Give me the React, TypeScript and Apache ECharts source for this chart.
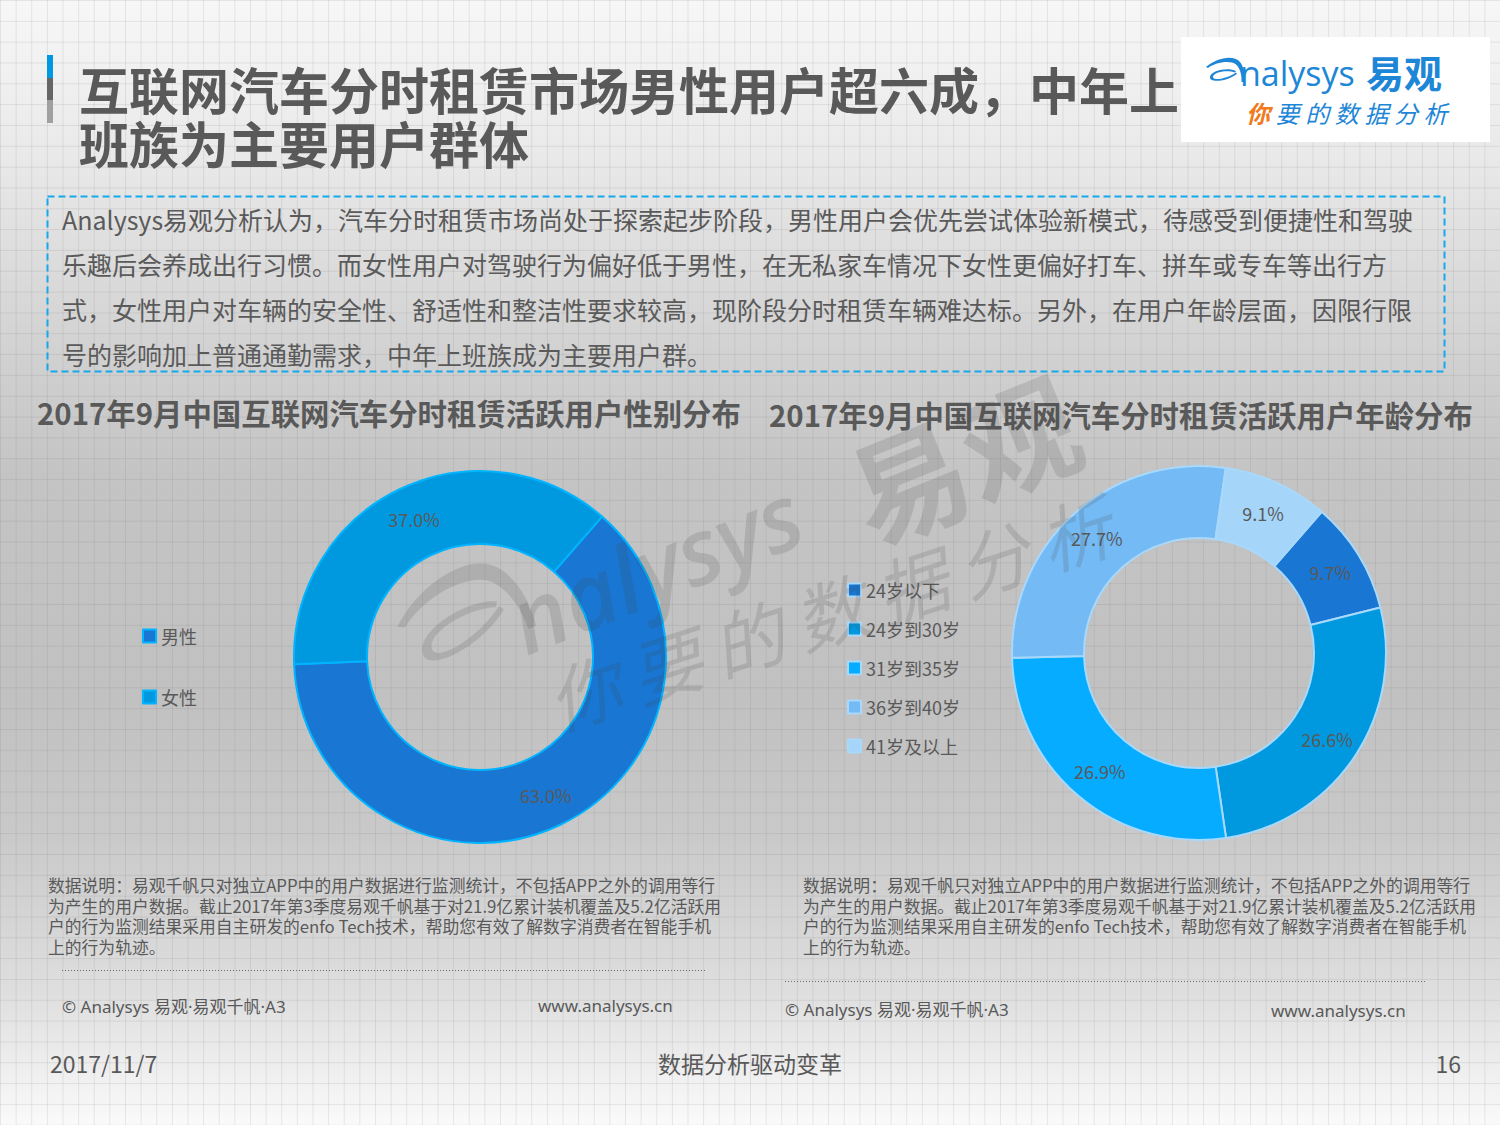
import React, { useEffect, useRef } from "react";
import * as echarts from "echarts";

const genderNames = ["男性", "女性"];
const genderValues = [63.0, 37.0];
const genderColors = ["#1976d2", "#0099e0"];

const ageNames = ["24岁以下", "24岁到30岁", "31岁到35岁", "36岁到40岁", "41岁及以上"];
const ageValues = [9.7, 26.6, 26.9, 27.7, 9.1];
const ageColors = ["#1976d2", "#0099e0", "#05acff", "#74baf5", "#a6d5fa"];

const titleLines = ["互联网汽车分时租赁市场男性用户超六成，中年上", "班族为主要用户群体"];
const bodyLines = [
  "Analysys易观分析认为，汽车分时租赁市场尚处于探索起步阶段，男性用户会优先尝试体验新模式，待感受到便捷性和驾驶",
  "乐趣后会养成出行习惯。而女性用户对驾驶行为偏好低于男性，在无私家车情况下女性更偏好打车、拼车或专车等出行方",
  "式，女性用户对车辆的安全性、舒适性和整洁性要求较高，现阶段分时租赁车辆难达标。另外，在用户年龄层面，因限行限",
  "号的影响加上普通通勤需求，中年上班族成为主要用户群。",
];
const chartTitles = [
  "2017年9月中国互联网汽车分时租赁活跃用户性别分布",
  "2017年9月中国互联网汽车分时租赁活跃用户年龄分布",
];
const noteLines = [
  "数据说明：易观千帆只对独立APP中的用户数据进行监测统计，不包括APP之外的调用等行",
  "为产生的用户数据。截止2017年第3季度易观千帆基于对21.9亿累计装机覆盖及5.2亿活跃用",
  "户的行为监测结果采用自主研发的enfo Tech技术，帮助您有效了解数字消费者在智能手机",
  "上的行为轨迹。",
];
const copyright = "© Analysys 易观·易观千帆·A3";
const website = "www.analysys.cn";
const footerDate = "2017/11/7";
const footerSlogan = "数据分析驱动变革";
const pageNo = "16";
const sloganChars = ["你", "要", "的", "数", "据", "分", "析"];

const FONT = "'Noto Sans CJK SC', 'Noto Sans', sans-serif";
const LATIN_FIRST = "'Noto Sans', 'Noto Sans CJK SC', sans-serif";
const GRAY = "#595959";

const swooshD =
  "M0 22 C 20 4, 55 -4, 68 12 C 76 22, 78 38, 76 52 L 71 52 C 72 38, 68 24, 60 17 C 48 8, 20 12, 4 24 Z " +
  "M 60 30 C 45 22, 10 28, 8 42 C 6 54, 40 52, 62 36 L 60 33 C 42 46, 14 50, 14 42 C 14 32, 42 27, 58 33 Z";

let registered = false;
function ensureShape() {
  if (registered) return;
  echarts.graphic.registerShape("swoosh", (echarts.graphic as any).extendPath(swooshD, {}));
  registered = true;
}

export default function App() {
  const ref = useRef<HTMLDivElement>(null);

  useEffect(() => {
    document.body.style.margin = "0";
    ensureShape();
    const chart = echarts.init(ref.current!, null, { renderer: "svg" });

    const txt = (x: number, y: number, text: string, o: any = {}) => {
      const fs = o.fontSize ?? 16;
      return {
        type: "text",
        x,
        y,
        silent: true,
        z: o.z ?? 10,
        rotation: o.rotation ?? 0,
        style: {
          text,
          fill: o.fill ?? GRAY,
          fontFamily: o.fontFamily ?? FONT,
          fontSize: fs,
          fontWeight: o.fontWeight ?? "normal",
          fontStyle: o.fontStyle ?? "normal",
          textAlign: o.align ?? "left",
          textVerticalAlign: o.vAlign ?? "middle",
          lineHeight: o.lineHeight ?? fs,
        },
      };
    };

    const graphics: any[] = [];
    // accent bar
    graphics.push({ type: "rect", shape: { x: 47, y: 55, width: 6, height: 23 }, style: { fill: "#0098e0" } });
    graphics.push({ type: "rect", shape: { x: 47, y: 78, width: 6, height: 22 }, style: { fill: "#666666" } });
    graphics.push({ type: "rect", shape: { x: 47, y: 100, width: 6, height: 23 }, style: { fill: "#a0a0a0" } });
    // title
    graphics.push(txt(79, 88, titleLines[0], { fontSize: 50, fontWeight: "bold", lineHeight: 50 }));
    graphics.push(txt(79, 142, titleLines[1], { fontSize: 50, fontWeight: "bold", lineHeight: 50 }));
    // logo box
    graphics.push({ type: "rect", shape: { x: 1181, y: 37, width: 309, height: 105 }, style: { fill: "#ffffff" } });
    graphics.push({ type: "swoosh", x: 1206, y: 56, scaleX: 0.5, scaleY: 0.5, style: { fill: "#1e86d6" } });
    graphics.push(txt(1240, 73, "nalysys", { fontSize: 34, lineHeight: 34, fill: "#1e86d6", fontFamily: "'Open Sans', 'Noto Sans', sans-serif" }));
    graphics.push(txt(1366, 71, "易观", { fontSize: 38, lineHeight: 38, fontWeight: "bold", fill: "#1e86d6" }));
    sloganChars.forEach((c, i) => {
      graphics.push(
        txt(1258 + i * 29.6, 112, c, {
          fontSize: 24,
          lineHeight: 24,
          align: "center",
          fontStyle: "italic",
          fill: i === 0 ? "#f07a1c" : "#1e86d6",
          fontWeight: i === 0 ? "bold" : "normal",
        })
      );
    });
    // dashed box
    graphics.push({
      type: "rect",
      shape: { x: 47.5, y: 196.5, width: 1397, height: 175 },
      style: { fill: "none", stroke: "#14a8ec", lineWidth: 2, lineDash: [7, 4] },
    });
    bodyLines.forEach((l, i) => {
      graphics.push(txt(62, 219 + i * 45, l, { fontSize: 25, fill: "#5a5a5a" }));
    });
    // chart titles
    graphics.push(txt(37, 412, chartTitles[0], { fontSize: 29.4, fontWeight: "bold" }));
    graphics.push(txt(769, 414, chartTitles[1], { fontSize: 29.4, fontWeight: "bold" }));
    // footnotes
    noteLines.forEach((l, i) => {
      graphics.push(txt(48, 885 + i * 20.7, l, { fontSize: 16.8, lineHeight: 18 }));
      graphics.push(txt(803, 885 + i * 20.7, l, { fontSize: 16.8, lineHeight: 18 }));
    });
    graphics.push({
      type: "line",
      shape: { x1: 62, y1: 970.5, x2: 705, y2: 970.5 },
      style: { stroke: "#6a6a6a", lineWidth: 1, lineDash: [1, 2] },
    });
    graphics.push({
      type: "line",
      shape: { x1: 785, y1: 981.5, x2: 1425, y2: 981.5 },
      style: { stroke: "#6a6a6a", lineWidth: 1, lineDash: [1, 2] },
    });
    graphics.push(txt(62, 1006, copyright, { fontSize: 17, fontFamily: LATIN_FIRST }));
    graphics.push(txt(538, 1005, website, { fontSize: 17, fontFamily: LATIN_FIRST }));
    graphics.push(txt(785, 1009, copyright, { fontSize: 17, fontFamily: LATIN_FIRST }));
    graphics.push(txt(1271, 1010, website, { fontSize: 17, fontFamily: LATIN_FIRST }));
    // footer
    graphics.push(txt(50, 1063, footerDate, { fontSize: 23 }));
    graphics.push(txt(750, 1063, footerSlogan, { fontSize: 23, align: "center" }));
    graphics.push(txt(1461, 1063, pageNo, { fontSize: 23, align: "right" }));

    // watermark
    const wm = "rgba(70,70,70,0.16)";
    const rot = (22 * Math.PI) / 180;
    graphics.push({
      type: "swoosh",
      x: 462 - 39,
      y: 610 - 27,
      originX: 39,
      originY: 27,
      scaleX: 1.7,
      scaleY: 1.7,
      rotation: rot,
      z: 50,
      silent: true,
      style: { fill: wm },
    });
    graphics.push(txt(655, 566, "nalysys", { fontSize: 92, fill: wm, align: "center", rotation: rot, z: 50, fontWeight: 600, fontStyle: "italic", fontFamily: "'Open Sans', 'Noto Sans', sans-serif" }));
    graphics.push(txt(962, 455, "易观", { fontSize: 118, fill: wm, align: "center", rotation: rot, fontWeight: "bold", z: 50 }));
    const srot = (18 * Math.PI) / 180;
    sloganChars.forEach((c, i) => {
      graphics.push(
        txt(583 + i * 86 * Math.cos(srot), 690 - i * 86 * Math.sin(srot), c, {
          fontSize: 72,
          fill: wm,
          align: "center",
          rotation: srot,
          fontStyle: "italic",
          z: 50,
        })
      );
    });

    const labelCfg = {
      show: true,
      position: "inside",
      fontSize: 18,
      color: GRAY,
      fontFamily: FONT,
      formatter: (p: any) => p.value.toFixed(1) + "%",
    };

    chart.setOption({
      animation: false,
      backgroundColor: "transparent",
      textStyle: { fontFamily: FONT },
      legend: [
        {
          data: genderNames,
          orient: "vertical",
          left: 137,
          top: 622,
          itemWidth: 13,
          itemHeight: 13,
          itemGap: 43,
          icon: "rect",
          selectedMode: false,
          itemStyle: { borderColor: "#00b4ff", borderWidth: 2 },
          textStyle: { fontSize: 18, color: GRAY, lineHeight: 18, fontFamily: FONT },
        },
        {
          data: ageNames,
          orient: "vertical",
          left: 842,
          top: 576,
          itemWidth: 13,
          itemHeight: 13,
          itemGap: 21,
          icon: "rect",
          selectedMode: false,
          itemStyle: { borderColor: "#a8d8fa", borderWidth: 2 },
          textStyle: { fontSize: 18, color: GRAY, lineHeight: 18, fontFamily: FONT },
        },
      ],
      series: [
        {
          type: "pie",
          center: [480, 657],
          radius: [113, 186],
          startAngle: 49,
          clockwise: true,
          avoidLabelOverlap: false,
          silent: true,
          itemStyle: { borderColor: "#00b4ff", borderWidth: 2 },
          label: labelCfg,
          labelLine: { show: false },
          data: genderNames.map((n, i) => ({ name: n, value: genderValues[i], itemStyle: { color: genderColors[i] } })),
        },
        {
          type: "pie",
          center: [1199, 653],
          radius: [115, 187],
          startAngle: 49,
          clockwise: true,
          avoidLabelOverlap: false,
          silent: true,
          itemStyle: { borderColor: "#a8d8fa", borderWidth: 2 },
          label: labelCfg,
          labelLine: { show: false },
          data: ageNames.map((n, i) => ({ name: n, value: ageValues[i], itemStyle: { color: ageColors[i] } })),
        },
      ],
      graphic: { elements: graphics },
    });

    return () => chart.dispose();
  }, []);

  const bg: React.CSSProperties = {
    position: "absolute",
    left: 0,
    top: 0,
    width: 1500,
    height: 1125,
    backgroundImage:
      "linear-gradient(to right, rgba(110,110,110,0.14) 1px, transparent 1px)," +
      "linear-gradient(to bottom, rgba(110,110,110,0.14) 1px, transparent 1px)," +
      "linear-gradient(to bottom, #f7f7f7 0%, #e9e9e9 14%, #d3d3d3 30%, #c4c4c4 42%, #c1c1c1 62%, #c9c9c9 74%, #dedede 88%, #fafafa 100%)",
    backgroundSize: "15.625px 20.833px, 15.625px 20.833px, 100% 100%",
  };

  return (
    <div style={bg}>
      <div ref={ref} style={{ width: 1500, height: 1125 }} />
    </div>
  );
}
